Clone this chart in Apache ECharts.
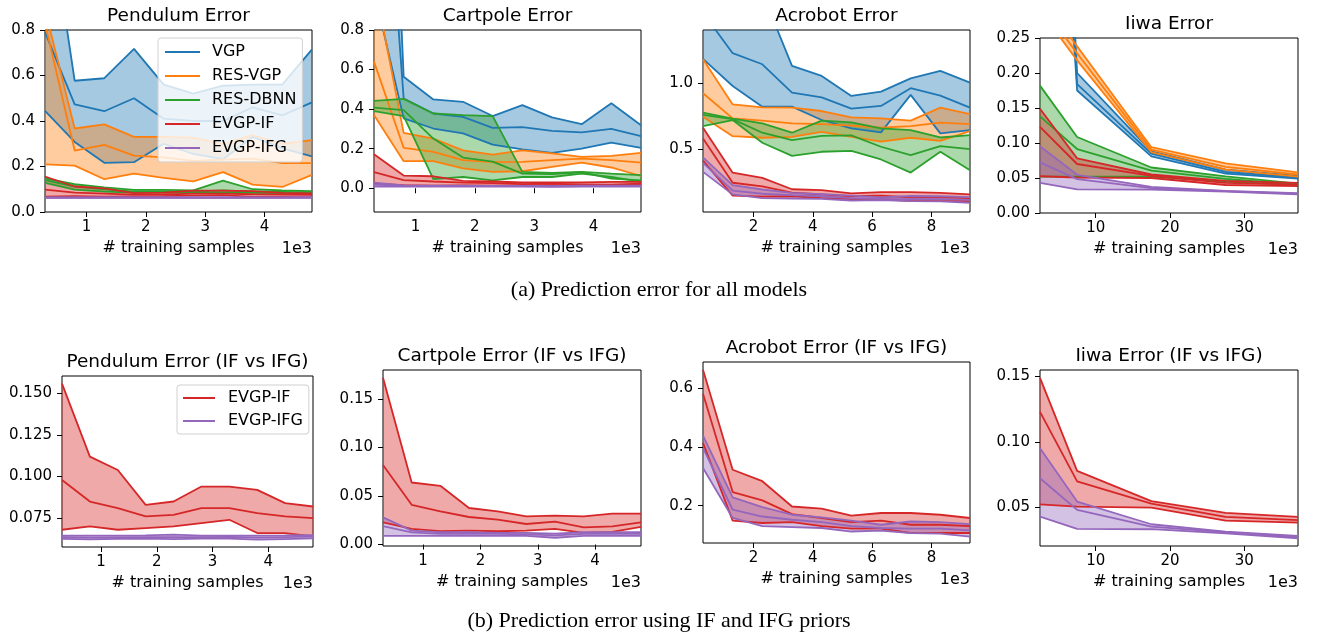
<!DOCTYPE html>
<html>
<head>
<meta charset="utf-8">
<title>Prediction error</title>
<script src="https://cdn.jsdelivr.net/npm/echarts@6/dist/echarts.min.js"></script>
<style>
  html, body { margin: 0; padding: 0; background: #fff; }
  #chart { width: 1318px; height: 636px; }
</style>
</head>
<body>
<div id="chart"></div>
<script>
// ---- data ----
const models = ["VGP", "RES-VGP", "RES-DBNN", "EVGP-IF", "EVGP-IFG"];

// training sample counts
const xPend = [300, 800, 1300, 1800, 2300, 2800, 3300, 3800, 4300, 4800];
const xCart = [300, 800, 1300, 1800, 2300, 2800, 3300, 3800, 4300, 4800];
const xAcro = [300, 1300, 2300, 3300, 4300, 5300, 6300, 7300, 8300, 9300];
const xIiwa = [2500, 7500, 17500, 27500, 37250];

// pendulum
const pendVgpHi = [1.45, 0.577, 0.588, 0.717, 0.56, 0.52, 0.555, 0.56, 0.56, 0.715];
const pendVgpMid = [0.79, 0.473, 0.443, 0.50, 0.41, 0.40, 0.40, 0.46, 0.425, 0.482];
const pendVgpLo = [0.445, 0.308, 0.216, 0.219, 0.30, 0.255, 0.232, 0.33, 0.28, 0.245];
const pendResHi = [0.89, 0.367, 0.385, 0.33, 0.33, 0.327, 0.298, 0.338, 0.30, 0.316];
const pendResMid = [0.83, 0.27, 0.295, 0.248, 0.24, 0.225, 0.23, 0.235, 0.215, 0.215];
const pendResLo = [0.209, 0.204, 0.144, 0.169, 0.15, 0.135, 0.175, 0.12, 0.11, 0.163];
const pendDbnnHi = [0.148, 0.122, 0.108, 0.097, 0.097, 0.095, 0.138, 0.10, 0.095, 0.092];
const pendDbnnMid = [0.14, 0.112, 0.10, 0.09, 0.09, 0.09, 0.095, 0.09, 0.088, 0.086];
const pendDbnnLo = [0.128, 0.098, 0.09, 0.085, 0.085, 0.085, 0.085, 0.084, 0.083, 0.082];
const pendIfHi = [0.156, 0.112, 0.104, 0.083, 0.085, 0.094, 0.094, 0.092, 0.084, 0.082];
const pendIfMid = [0.098, 0.085, 0.081, 0.076, 0.077, 0.081, 0.081, 0.078, 0.076, 0.075];
const pendIfLo = [0.068, 0.070, 0.068, 0.069, 0.070, 0.072, 0.074, 0.066, 0.066, 0.064];
const pendIfgHi = [0.0645, 0.0645, 0.0645, 0.0646, 0.065, 0.0645, 0.0645, 0.0645, 0.0646, 0.0648];
const pendIfgMid = [0.0635, 0.0632, 0.0634, 0.0636, 0.0636, 0.0636, 0.0637, 0.0632, 0.0635, 0.0638];
const pendIfgLo = [0.0625, 0.0622, 0.0625, 0.0626, 0.0624, 0.0626, 0.0627, 0.062, 0.0624, 0.0628];

// cartpole
const cartVgpHi = [4.0, 0.564, 0.449, 0.437, 0.365, 0.42, 0.358, 0.324, 0.43, 0.319];
const cartVgpMid = [2.5, 0.454, 0.378, 0.361, 0.305, 0.309, 0.29, 0.282, 0.30, 0.263];
const cartVgpLo = [1.0, 0.353, 0.302, 0.277, 0.221, 0.197, 0.179, 0.2, 0.231, 0.204];
const cartResHi = [1.05, 0.28, 0.251, 0.192, 0.17, 0.192, 0.176, 0.159, 0.164, 0.179];
const cartResMid = [0.64, 0.204, 0.184, 0.142, 0.132, 0.133, 0.142, 0.15, 0.142, 0.13];
const cartResLo = [0.37, 0.137, 0.137, 0.10, 0.083, 0.086, 0.108, 0.13, 0.105, 0.062];
const cartDbnnHi = [0.442, 0.452, 0.378, 0.37, 0.365, 0.083, 0.078, 0.083, 0.074, 0.066];
const cartDbnnMid = [0.408, 0.395, 0.251, 0.155, 0.135, 0.074, 0.071, 0.081, 0.049, 0.04];
const cartDbnnLo = [0.39, 0.365, 0.046, 0.057, 0.04, 0.057, 0.057, 0.074, 0.057, 0.032];
const cartIfHi = [0.172, 0.064, 0.0606, 0.0377, 0.0342, 0.0291, 0.0298, 0.0291, 0.0318, 0.0318];
const cartIfMid = [0.082, 0.041, 0.0342, 0.0284, 0.0257, 0.0212, 0.0236, 0.0178, 0.0188, 0.0229];
const cartIfLo = [0.0229, 0.0161, 0.0137, 0.0144, 0.0137, 0.0144, 0.0161, 0.012, 0.013, 0.0182];
const cartIfgHi = [0.028, 0.0144, 0.0127, 0.0127, 0.012, 0.012, 0.0113, 0.0127, 0.0127, 0.0127];
const cartIfgMid = [0.019, 0.0125, 0.011, 0.011, 0.011, 0.0105, 0.0095, 0.011, 0.011, 0.011];
const cartIfgLo = [0.009, 0.009, 0.009, 0.009, 0.009, 0.009, 0.007, 0.009, 0.009, 0.009];

// acrobot
const acroVgpHi = [2.0, 1.9, 1.68, 1.129, 1.053, 0.902, 0.934, 1.035, 1.091, 1.003];
const acroVgpMid = [1.53, 1.225, 1.141, 0.927, 0.891, 0.806, 0.826, 0.96, 0.904, 0.813];
const acroVgpLo = [1.182, 0.977, 0.821, 0.821, 0.72, 0.657, 0.627, 0.91, 0.619, 0.644];
const acroResHi = [1.179, 0.838, 0.816, 0.813, 0.788, 0.74, 0.732, 0.715, 0.813, 0.765];
const acroResMid = [0.922, 0.732, 0.715, 0.694, 0.689, 0.677, 0.662, 0.674, 0.70, 0.689];
const acroResLo = [0.745, 0.598, 0.586, 0.593, 0.631, 0.593, 0.556, 0.586, 0.563, 0.636];
const acroDbnnHi = [0.775, 0.73, 0.694, 0.624, 0.715, 0.702, 0.657, 0.644, 0.588, 0.606];
const acroDbnnMid = [0.758, 0.727, 0.624, 0.568, 0.60, 0.604, 0.518, 0.455, 0.523, 0.50];
const acroDbnnLo = [0.674, 0.72, 0.548, 0.449, 0.48, 0.487, 0.422, 0.323, 0.48, 0.341];
const acroIfHi = [0.662, 0.322, 0.283, 0.197, 0.19, 0.166, 0.175, 0.175, 0.169, 0.158];
const acroIfMid = [0.58, 0.246, 0.218, 0.171, 0.158, 0.144, 0.149, 0.135, 0.135, 0.13];
const acroIfLo = [0.413, 0.149, 0.141, 0.144, 0.13, 0.122, 0.122, 0.107, 0.107, 0.107];
const acroIfgHi = [0.438, 0.228, 0.195, 0.169, 0.16, 0.149, 0.135, 0.146, 0.144, 0.137];
const acroIfgMid = [0.396, 0.186, 0.163, 0.152, 0.144, 0.13, 0.124, 0.122, 0.122, 0.116];
const acroIfgLo = [0.328, 0.158, 0.13, 0.127, 0.124, 0.112, 0.115, 0.107, 0.105, 0.095];

// iiwa
const iiwaVgpHi = [1.2, 0.20, 0.088, 0.062, 0.053];
const iiwaVgpMid = [1.1, 0.184, 0.0848, 0.0586, 0.051];
const iiwaVgpLo = [1.0, 0.175, 0.081, 0.0562, 0.049];
const iiwaResHi = [0.31, 0.238, 0.094, 0.071, 0.058];
const iiwaResMid = [0.30, 0.228, 0.0905, 0.066, 0.055];
const iiwaResLo = [0.29, 0.218, 0.087, 0.062, 0.052];
const iiwaDbnnHi = [0.182, 0.1086, 0.065, 0.0524, 0.042];
const iiwaDbnnMid = [0.138, 0.0914, 0.0605, 0.0486, 0.0405];
const iiwaDbnnLo = [0.052, 0.052, 0.052, 0.045, 0.040];
const iiwaIfHi = [0.149, 0.078, 0.055, 0.046, 0.043];
const iiwaIfMid = [0.123, 0.070, 0.053, 0.043, 0.0405];
const iiwaIfLo = [0.0525, 0.0507, 0.050, 0.040, 0.0385];
const iiwaIfgHi = [0.0953, 0.0546, 0.0373, 0.0317, 0.0284];
const iiwaIfgMid = [0.0724, 0.0483, 0.0355, 0.0312, 0.0274];
const iiwaIfgLo = [0.0431, 0.0338, 0.0335, 0.0304, 0.0266];

// tick labels
const xTicks5k = [1000, 2000, 3000, 4000];
const xTicks10k = [2000, 4000, 6000, 8000];
const xTicks40k = [10000, 20000, 30000];
const yTicksPend = [0, 0.2, 0.4, 0.6, 0.8];
const yTicksCart = [0, 0.2, 0.4, 0.6, 0.8];
const yTicksAcro = [0.5, 1.0];
const yTicksIiwa = [0, 0.05, 0.1, 0.15, 0.2, 0.25];
const yTicksPendIF = [0.075, 0.1, 0.125, 0.15];
const yTicksCartIF = [0, 0.05, 0.1, 0.15];
const yTicksAcroIF = [0.2, 0.4, 0.6];
const yTicksIiwaIF = [0.05, 0.1, 0.15];

// ---- style ----
const colors = {
  "VGP": "#1f77b4",
  "RES-VGP": "#ff7f0e",
  "RES-DBNN": "#2ca02c",
  "EVGP-IF": "#d62728",
  "EVGP-IFG": "#9467bd",
};
const FONT = '"DejaVu Sans", sans-serif';

const pend = { "VGP": [pendVgpLo, pendVgpMid, pendVgpHi], "RES-VGP": [pendResLo, pendResMid, pendResHi],
  "RES-DBNN": [pendDbnnLo, pendDbnnMid, pendDbnnHi], "EVGP-IF": [pendIfLo, pendIfMid, pendIfHi], "EVGP-IFG": [pendIfgLo, pendIfgMid, pendIfgHi] };
const cart = { "VGP": [cartVgpLo, cartVgpMid, cartVgpHi], "RES-VGP": [cartResLo, cartResMid, cartResHi],
  "RES-DBNN": [cartDbnnLo, cartDbnnMid, cartDbnnHi], "EVGP-IF": [cartIfLo, cartIfMid, cartIfHi], "EVGP-IFG": [cartIfgLo, cartIfgMid, cartIfgHi] };
const acro = { "VGP": [acroVgpLo, acroVgpMid, acroVgpHi], "RES-VGP": [acroResLo, acroResMid, acroResHi],
  "RES-DBNN": [acroDbnnLo, acroDbnnMid, acroDbnnHi], "EVGP-IF": [acroIfLo, acroIfMid, acroIfHi], "EVGP-IFG": [acroIfgLo, acroIfgMid, acroIfgHi] };
const iiwa = { "VGP": [iiwaVgpLo, iiwaVgpMid, iiwaVgpHi], "RES-VGP": [iiwaResLo, iiwaResMid, iiwaResHi],
  "RES-DBNN": [iiwaDbnnLo, iiwaDbnnMid, iiwaDbnnHi], "EVGP-IF": [iiwaIfLo, iiwaIfMid, iiwaIfHi], "EVGP-IFG": [iiwaIfgLo, iiwaIfgMid, iiwaIfgHi] };

const ifModels = ["EVGP-IF", "EVGP-IFG"];

// box = [left, top, width, height] in px
const panels = [
  { title: "Pendulum Error", box: [45, 30, 267, 182], x: xPend, xr: [300, 4800], xt: xTicks5k, yr: [0, 0.8], yt: yTicksPend, yd: 1, src: pend, m: models },
  { title: "Cartpole Error", box: [374, 30, 267, 182], x: xCart, xr: [300, 4800], xt: xTicks5k, yr: [-0.12, 0.8], yt: yTicksCart, yd: 1, src: cart, m: models },
  { title: "Acrobot Error", box: [703, 30, 267, 182], x: xAcro, xr: [300, 9300], xt: xTicks10k, yr: [0.025, 1.40], yt: yTicksAcro, yd: 1, src: acro, m: models },
  { title: "Iiwa Error", box: [1040, 38, 258, 175], x: xIiwa, xr: [2500, 37250], xt: xTicks40k, yr: [0, 0.25], yt: yTicksIiwa, yd: 2, src: iiwa, m: models },
  { title: "Pendulum Error (IF vs IFG)", box: [62, 376, 251, 171], x: xPend, xr: [300, 4800], xt: xTicks5k, yr: [0.0576, 0.1606], yt: yTicksPendIF, yd: 3, src: pend, m: ifModels },
  { title: "Cartpole Error (IF vs IFG)", box: [383, 370, 258, 176], x: xCart, xr: [300, 4800], xt: xTicks5k, yr: [-0.0015, 0.18], yt: yTicksCartIF, yd: 2, src: cart, m: ifModels },
  { title: "Acrobot Error (IF vs IFG)", box: [703, 362, 267, 181], x: xAcro, xr: [300, 9300], xt: xTicks10k, yr: [0.073, 0.688], yt: yTicksAcroIF, yd: 1, src: acro, m: ifModels },
  { title: "Iiwa Error (IF vs IFG)", box: [1040, 370, 258, 176], x: xIiwa, xr: [2500, 37250], xt: xTicks40k, yr: [0.0207, 0.155], yt: yTicksIiwaIF, yd: 2, src: iiwa, m: ifModels },
];

function rgba(hex, a) {
  const n = parseInt(hex.slice(1), 16);
  return "rgba(" + (n >> 16) + "," + ((n >> 8) & 255) + "," + (n & 255) + "," + a + ")";
}

// clip a pixel polygon to the plot rectangle (Sutherland-Hodgman)
function clipPoly(pts, x0, y0, x1, y1) {
  const edges = [
    [(p) => p[0] >= x0, (a, b) => [x0, a[1] + (x0 - a[0]) / (b[0] - a[0]) * (b[1] - a[1])]],
    [(p) => p[0] <= x1, (a, b) => [x1, a[1] + (x1 - a[0]) / (b[0] - a[0]) * (b[1] - a[1])]],
    [(p) => p[1] >= y0, (a, b) => [a[0] + (y0 - a[1]) / (b[1] - a[1]) * (b[0] - a[0]), y0]],
    [(p) => p[1] <= y1, (a, b) => [a[0] + (y1 - a[1]) / (b[1] - a[1]) * (b[0] - a[0]), y1]],
  ];
  let out = pts;
  for (const [inside, cut] of edges) {
    const inp = out;
    out = [];
    for (let i = 0; i < inp.length; i++) {
      const cur = inp[i], prev = inp[(i + inp.length - 1) % inp.length];
      if (inside(cur)) {
        if (!inside(prev)) out.push(cut(prev, cur));
        out.push(cur);
      } else if (inside(prev)) {
        out.push(cut(prev, cur));
      }
    }
    if (!out.length) break;
  }
  return out;
}

var myChart = echarts.init(document.getElementById("chart"));

let grids = [], xAxes = [], yAxes = [], series = [], texts = [];

panels.forEach((p, gi) => {
  const [l, t, w, h] = p.box;
  grids.push({ left: l, top: t, width: w, height: h, show: true, borderColor: "#000", borderWidth: 1,
    backgroundColor: "#fff", containLabel: false, outerBoundsMode: "none" });
  xAxes.push({
    gridIndex: gi, type: "value", min: p.xr[0], max: p.xr[1],
    axisLine: { show: false }, splitLine: { show: false },
    axisTick: { show: true, length: 5, customValues: p.xt, lineStyle: { color: "#000" } },
    axisLabel: { customValues: p.xt, margin: 8, color: "#000", fontSize: 15, fontFamily: FONT,
      formatter: (v) => String(Math.round(v / 1000)) },
    name: "# training samples", nameLocation: "middle", nameGap: 28,
    nameTextStyle: { color: "#000", fontSize: 16, fontFamily: FONT },
  });
  yAxes.push({
    gridIndex: gi, type: "value", min: p.yr[0], max: p.yr[1],
    axisLine: { show: false }, splitLine: { show: false },
    axisTick: { show: true, length: 5, customValues: p.yt, lineStyle: { color: "#000" } },
    axisLabel: { customValues: p.yt, margin: 10, color: "#000", fontSize: 15, fontFamily: FONT,
      formatter: (v) => v.toFixed(p.yd) },
  });
  texts.push({ type: "text", x: l + w / 2, y: t - 14, z: 100,
    style: { text: p.title, font: "18.5px " + FONT, fill: "#000", textAlign: "center", textVerticalAlign: "middle" } });
  texts.push({ type: "text", x: l + w, y: t + h + 37, z: 100,
    style: { text: "1e3", font: "16px " + FONT, fill: "#000", textAlign: "right", textVerticalAlign: "middle" } });

  p.m.forEach((name) => {
    const [lo, mid, hi] = p.src[name];
    const color = colors[name];
    const xs = p.x;
    [lo, mid, hi].forEach((ys) => {
      series.push({ name, type: "line", xAxisIndex: gi, yAxisIndex: gi, symbol: "none", silent: true,
        clip: true, lineStyle: { color, width: 1.8 }, itemStyle: { color },
        data: xs.map((x, i) => [x, ys[i]]) });
    });
    // shaded band between lower and upper
    series.push({
      name: name + " band", type: "custom", xAxisIndex: gi, yAxisIndex: gi, silent: true,
      encode: { x: 0, y: [1, 2] },
      data: xs.map((x, i) => [x, lo[i], hi[i]]),
      renderItem: (params, api) => {
        if (params.dataIndex !== 0) return null;
        const pts = [];
        xs.forEach((x, i) => pts.push(api.coord([x, hi[i]])));
        for (let i = xs.length - 1; i >= 0; i--) pts.push(api.coord([xs[i], lo[i]]));
        const cs = params.coordSys;
        const poly = clipPoly(pts, cs.x, cs.y, cs.x + cs.width, cs.y + cs.height);
        if (poly.length < 3) return null;
        return { type: "polygon", shape: { points: poly }, style: { fill: rgba(color, 0.4) } };
      },
    });
  });
});

texts.push({ type: "text", x: 659, y: 290, style: { text: "(a) Prediction error for all models",
  font: '22px "Liberation Serif", serif', fill: "#000", textAlign: "center", textVerticalAlign: "middle" } });
texts.push({ type: "text", x: 659, y: 621, style: { text: "(b) Prediction error using IF and IFG priors",
  font: '22px "Liberation Serif", serif', fill: "#000", textAlign: "center", textVerticalAlign: "middle" } });

let option = {
  animation: false,
  backgroundColor: "#fff",
  grid: grids,
  xAxis: xAxes,
  yAxis: yAxes,
  legend: [
    {
      orient: "vertical", left: 158, top: 38, padding: [6, 6, 6, 7], itemGap: 8,
      itemWidth: 35, itemHeight: 2, icon: "rect", selectedMode: false,
      backgroundColor: "rgba(255,255,255,0.8)", borderColor: "#d0d0d0", borderWidth: 1, borderRadius: 3,
      textStyle: { fontFamily: FONT, fontSize: 16, color: "#000", lineHeight: 16, padding: [0, 0, 0, 7] },
      data: models.map((m) => ({ name: m, itemStyle: { color: colors[m] } })),
    },
    {
      orient: "vertical", left: 177, top: 385, padding: [5, 6, 5, 6], itemGap: 7,
      itemWidth: 32, itemHeight: 2, icon: "rect", selectedMode: false,
      backgroundColor: "rgba(255,255,255,0.8)", borderColor: "#d0d0d0", borderWidth: 1, borderRadius: 3,
      textStyle: { fontFamily: FONT, fontSize: 16, color: "#000", lineHeight: 16, padding: [0, 0, 0, 8] },
      data: ifModels.map((m) => ({ name: m, itemStyle: { color: colors[m] } })),
    },
  ],
  graphic: texts,
  series: series,
};

myChart.setOption(option);
</script>
</body>
</html>
